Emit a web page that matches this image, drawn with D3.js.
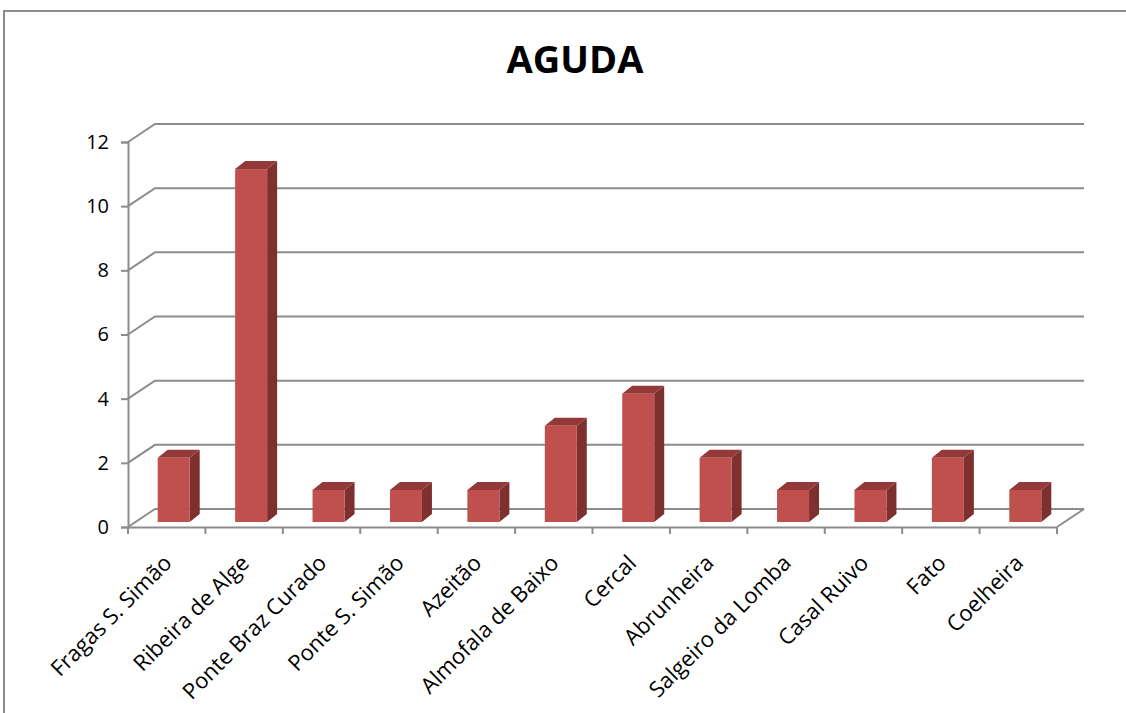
<!DOCTYPE html>
<html>
<head>
<meta charset="utf-8">
<script src="https://d3js.org/d3.v7.min.js"></script>
<style>
 body { margin: 0; background: #fff; }
 svg { display: block; }
 text { font-family: "Open Sans", Lato, sans-serif; fill: #000; }
</style>
</head>
<body>
<script>
// data
var categories = ["Fragas S. Simão", "Ribeira de Alge", "Ponte Braz Curado", "Ponte S. Simão",
 "Azeitão", "Almofala de Baixo", "Cercal", "Abrunheira", "Salgeiro da Lomba",
 "Casal Ruivo", "Fato", "Coelheira"];
var values = [2, 11, 1, 1, 1, 3, 4, 2, 1, 1, 2, 1];
var yTicks = [0, 2, 4, 6, 8, 10, 12];
var title = "AGUDA";

var width = 1126, height = 713;
// depth of the 3d box and of the bars
var depth = {dx: 27, dy: -18};
var barFront = {dx: 7, dy: -5};
var barDepth = {dx: 10, dy: -8};

var svg = d3.select("body").append("svg")
 .attr("width", width)
 .attr("height", height);

// chart frame
svg.append("rect")
 .attr("x", 4).attr("y", 11)
 .attr("width", width + 10).attr("height", height + 10)
 .attr("fill", "none")
 .attr("stroke", "#8c8c8c")
 .attr("stroke-width", 2);

svg.append("text")
 .attr("x", 575).attr("y", 73)
 .attr("text-anchor", "middle")
 .style("font-size", "38px")
 .style("font-weight", "bold")
 .text(title);

var x = d3.scaleBand()
 .domain(categories)
 .range([128, 1057])
 .paddingInner(0)
 .paddingOuter(0);

var y = d3.scaleLinear()
 .domain([0, 12])
 .range([527, 142]);

var grid = svg.append("g");
// back wall gridlines
grid.selectAll("path.gl")
 .data(yTicks)
 .enter().append("path")
 .attr("class", "gl")
 .attr("d", function(d) {
   return "M128," + y(d) + "L" + (128 + depth.dx) + "," + (y(d) + depth.dy) +
     "L" + (1057 + depth.dx) + "," + (y(d) + depth.dy);
 })
 .attr("fill", "none")
 .attr("stroke", "#8c8c8c")
 .attr("stroke-width", 2);

// floor right edge
grid.append("path")
 .attr("d", "M1057," + y(0) + "L" + (1057 + depth.dx) + "," + (y(0) + depth.dy))
 .attr("fill", "none")
 .attr("stroke", "#8c8c8c")
 .attr("stroke-width", 2);

// bars
var bars = svg.append("g").selectAll("g")
 .data(values)
 .enter().append("g");

var bw = 32;
function fx(i) { return x(categories[i]) + x.bandwidth() / 2 - bw / 2 + barFront.dx; }
function fy(v) { return y(v) + barFront.dy; }
var base = y(0) + barFront.dy;

bars.append("path") // side
 .attr("d", function(d, i) {
   var x1 = fx(i) + bw, t = fy(d);
   return "M" + x1 + "," + t + "L" + (x1 + barDepth.dx) + "," + (t + barDepth.dy) +
     "L" + (x1 + barDepth.dx) + "," + (base + barDepth.dy) + "L" + x1 + "," + base + "Z";
 })
 .attr("fill", "#7d302e");

bars.append("path") // top
 .attr("d", function(d, i) {
   var x0 = fx(i), t = fy(d);
   return "M" + x0 + "," + t + "L" + (x0 + barDepth.dx) + "," + (t + barDepth.dy) +
     "L" + (x0 + bw + barDepth.dx) + "," + (t + barDepth.dy) + "L" + (x0 + bw) + "," + t + "Z";
 })
 .attr("fill", "#94393a");

bars.append("rect") // front
 .attr("x", function(d, i) { return fx(i); })
 .attr("y", function(d) { return fy(d); })
 .attr("width", bw)
 .attr("height", function(d) { return base - fy(d); })
 .attr("fill", "#c0504d");

// y axis
var yAxis = svg.append("g")
 .attr("transform", "translate(128,0)")
 .call(d3.axisLeft(y).tickValues(yTicks).tickSize(7).tickPadding(12));
yAxis.select(".domain").attr("stroke", "#8c8c8c").attr("stroke-width", 2);
yAxis.selectAll(".tick line").attr("stroke", "#8c8c8c").attr("stroke-width", 2);
yAxis.selectAll("text").style("font-size", "20px").attr("fill", "#000")
 .style("font-family", "\"Open Sans\", sans-serif");

// x axis
var xAxis = svg.append("g")
 .attr("transform", "translate(0," + y(0) + ")")
 .call(d3.axisBottom(x).tickSize(0).tickFormat(""));
xAxis.select(".domain").attr("stroke", "#8c8c8c").attr("stroke-width", 2);

svg.append("g").selectAll("line")
 .data(d3.range(categories.length + 1))
 .enter().append("line")
 .attr("x1", function(i) { return 128 + i * x.step(); })
 .attr("x2", function(i) { return 128 + i * x.step(); })
 .attr("y1", y(0)).attr("y2", y(0) + 7)
 .attr("stroke", "#8c8c8c")
 .attr("stroke-width", 2);

svg.append("g").selectAll("text")
 .data(categories)
 .enter().append("text")
 .attr("transform", function(d) {
   return "translate(" + (x(d) + x.bandwidth() / 2 + 1) + "," + (y(0) + 32) + ") rotate(-45)";
 })
 .attr("text-anchor", "end")
 .attr("dy", "0.35em")
 .style("font-size", "22px")
 .text(function(d) { return d; });
</script>
</body>
</html>
